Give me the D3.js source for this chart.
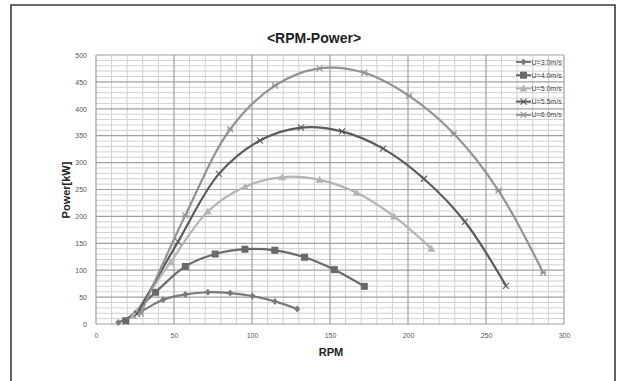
<!DOCTYPE html>
<html><head><meta charset="utf-8">
<script src="https://cdn.jsdelivr.net/npm/d3@7"></script>
<style>body{margin:0;background:#fff}svg{display:block}</style>
</head><body>
<svg id="c" width="618" height="381"></svg>
<script>
const seriesNames = ["U=3.0m/s","U=4.0m/s","U=5.0m/s","U=5.5m/s","U=6.0m/s"];
const rpm30 = [14.3,28.7,43,57.3,71.7,86,100.3,114.7,129];
const pow30 = [3,23,45,55,59,57.5,52,42,28];
const rpm40 = [19.1,38.2,57.3,76.4,95.5,114.6,133.7,152.8,172];
const pow40 = [6,59,107,130,139,137,124,101,70];
const rpm50 = [23.9,47.8,71.7,95.5,119.4,143.3,167.2,191.1,215];
const pow50 = [15,115,209,255,273,268,244,200,140];
const rpm55 = [26.3,52.6,78.8,105.1,131.4,157.7,184,210.2,236.5,262.8];
const pow55 = [19,153,279,341,365,358,326,270,190,71];
const rpm60 = [28.7,57.3,86,114.7,143.3,172,200.7,229.3,258,286.7];
const pow60 = [20,202,362,443,475,467,424,354,248,95];
const xTicks = [0,50,100,150,200,250,300];
const yTicks = [0,50,100,150,200,250,300,350,400,450,500];

const colors = ["#7a7a7a","#696969","#b4b4b4","#5a5a5a","#939393"];
const markers = ["diamond","square","triangle","cross","star"];
const series = [
  {name:seriesNames[0], rpm:rpm30, pow:pow30},
  {name:seriesNames[1], rpm:rpm40, pow:pow40},
  {name:seriesNames[2], rpm:rpm50, pow:pow50},
  {name:seriesNames[3], rpm:rpm55, pow:pow55},
  {name:seriesNames[4], rpm:rpm60, pow:pow60}
];

const svg = d3.select("#c");
const L=96, R=564, T=55, B=324;
const x = d3.scaleLinear().domain([0,300]).range([L,R]);
const y = d3.scaleLinear().domain([0,500]).range([B,T]);

// outer frame
svg.append("path").attr("d","M11,381 V5 H615 V381").attr("fill","none").attr("stroke","#3a3a3a").attr("stroke-width",1.6);

// minor grid
const g = svg.append("g");
d3.range(0,301,10).forEach(v=>{ if(v%50) g.append("line").attr("x1",x(v)).attr("x2",x(v)).attr("y1",T).attr("y2",B).attr("stroke","#d0d0d0").attr("stroke-width",1);});
d3.range(0,501,10).forEach(v=>{ if(v%50) g.append("line").attr("y1",y(v)).attr("y2",y(v)).attr("x1",L).attr("x2",R).attr("stroke","#d0d0d0").attr("stroke-width",1);});
// major grid
xTicks.forEach(v=>g.append("line").attr("x1",x(v)).attr("x2",x(v)).attr("y1",T).attr("y2",B).attr("stroke","#a0a0a0").attr("stroke-width",1.2));
yTicks.forEach(v=>g.append("line").attr("y1",y(v)).attr("y2",y(v)).attr("x1",L).attr("x2",R).attr("stroke","#a0a0a0").attr("stroke-width",1.2));

// axes
const xa = svg.append("g").attr("transform",`translate(0,${B})`).call(d3.axisBottom(x).tickValues(xTicks).tickSize(0).tickPadding(9));
const ya = svg.append("g").attr("transform",`translate(${L},0)`).call(d3.axisLeft(y).tickValues(yTicks).tickSize(0).tickPadding(9));
[xa,ya].forEach(a=>{a.select(".domain").remove();a.selectAll("text").attr("font-family","Liberation Sans, Arial, sans-serif").attr("font-size",7).attr("fill","#555");});

// title & labels
svg.append("text").attr("x",314).attr("y",43).attr("text-anchor","middle").attr("font-family","Liberation Sans, Arial, sans-serif").attr("font-weight","bold").attr("font-size",14).attr("fill","#222").text("<RPM-Power>");
svg.append("text").attr("x",331).attr("y",356).attr("text-anchor","middle").attr("font-family","Liberation Sans, Arial, sans-serif").attr("font-weight","bold").attr("font-size",11).attr("fill","#222").text("RPM");
svg.append("text").attr("transform","translate(70,190) rotate(-90)").attr("text-anchor","middle").attr("font-family","Liberation Sans, Arial, sans-serif").attr("font-weight","bold").attr("font-size",11).attr("fill","#222").text("Power[kW]");

function drawMarker(sel, type, cx, cy, col){
  if(type==="diamond") sel.append("path").attr("d",`M${cx},${cy-3.5}L${cx+3},${cy}L${cx},${cy+3.5}L${cx-3},${cy}Z`).attr("fill",col);
  else if(type==="square") sel.append("rect").attr("x",cx-3.5).attr("y",cy-3.5).attr("width",7).attr("height",7).attr("fill",col);
  else if(type==="triangle") sel.append("path").attr("d",`M${cx},${cy-4}L${cx+4},${cy+3}L${cx-4},${cy+3}Z`).attr("fill",col);
  else if(type==="cross") sel.append("path").attr("d",`M${cx-3},${cy-3}L${cx+3},${cy+3}M${cx-3},${cy+3}L${cx+3},${cy-3}`).attr("stroke",col).attr("stroke-width",1.1);
  else sel.append("path").attr("d",`M${cx-3},${cy-3}L${cx+3},${cy+3}M${cx-3},${cy+3}L${cx+3},${cy-3}M${cx-3},${cy}L${cx+3},${cy}`).attr("stroke",col).attr("stroke-width",1.1);
}

const line = d3.line().x(d=>x(d[0])).y(d=>y(d[1])).curve(d3.curveCatmullRom.alpha(0.5));
series.forEach((s,i)=>{
  const pts = s.rpm.map((r,j)=>[r,s.pow[j]]);
  svg.append("path").attr("d",line(pts)).attr("fill","none").attr("stroke",colors[i]).attr("stroke-width",2.2);
  const mg = svg.append("g");
  pts.forEach(p=>drawMarker(mg,markers[i],x(p[0]),y(p[1]),colors[i]));
});

// legend
const lg = svg.append("g");
series.forEach((s,i)=>{
  const yy = 62 + i*13.2;
  lg.append("line").attr("x1",516).attr("x2",531).attr("y1",yy).attr("y2",yy).attr("stroke",colors[i]).attr("stroke-width",2);
  drawMarker(lg,markers[i],523.5,yy,colors[i]);
  lg.append("text").attr("x",531.5).attr("y",yy+2.5).attr("font-family","Liberation Sans, Arial, sans-serif").attr("font-size",7).attr("fill","#444").text(s.name);
});
</script>
</body></html>
